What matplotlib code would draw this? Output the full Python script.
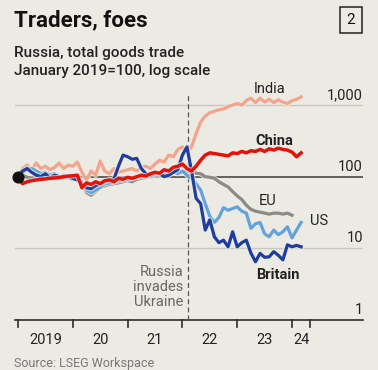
import matplotlib.pyplot as plt
import matplotlib.patheffects as pe
import numpy as np

BG = "#ecebe3"

# monthly values, Jan 2019 = 100
india = [100, 130, 145, 125, 155, 130, 140, 125, 135, 155, 130, 145,
         140, 160, 115, 90, 120, 105, 165, 120, 110, 130, 115, 120,
         125, 130, 120, 135, 140, 130, 150, 170, 160, 200, 190, 240,
         260, 220, 260, 400, 580, 700, 780, 820, 860, 880, 950, 1000,
         1050, 1000, 1150, 1250, 1080, 1250, 1100, 1200, 1080, 1180, 1100, 1050,
         1150, 1200, 1300]
china = [95, 80, 85, 88, 90, 92, 93, 95, 96, 97, 100, 102,
         103, 105, 70, 82, 78, 85, 80, 88, 90, 85, 95, 92,
         98, 95, 100, 105, 102, 110, 115, 112, 125, 120, 135, 140,
         150, 130, 120, 140, 170, 200, 215, 210, 205, 200, 195, 215,
         210, 225, 215, 230, 225, 240, 225, 245, 235, 250, 240, 235,
         220, 190, 215]
eu = [100, 105, 98, 95, 100, 97, 95, 93, 96, 94, 97, 95,
      92, 90, 80, 60, 55, 62, 70, 75, 78, 80, 82, 85,
      88, 85, 92, 95, 98, 100, 102, 105, 108, 110, 112, 115,
      118, 120, 115, 112, 110, 100, 98, 95, 85, 78, 72, 62,
      54, 48, 40, 35, 33, 32, 31, 30, 31, 31, 30, 31,
      29]
us = [100, 115, 125, 130, 120, 110, 115, 105, 110, 100, 105, 100,
      100, 95, 85, 65, 60, 65, 72, 80, 82, 85, 88, 90,
      92, 95, 98, 100, 105, 100, 108, 112, 110, 115, 118, 110,
      120, 105, 95, 80, 65, 42, 28, 23, 27, 37, 34, 36,
      38, 33, 31, 19, 22, 23, 16, 14.5, 18, 15.5, 17, 20,
      14, 18, 23]
britain = [100, 120, 130, 115, 105, 100, 110, 95, 105, 100, 98, 100,
           95, 90, 80, 70, 68, 75, 80, 85, 90, 92, 140, 200,
           190, 175, 180, 130, 110, 105, 115, 110, 100, 105, 115, 125,
           200, 260, 120, 50, 42, 18, 25, 14.5, 12, 13, 10.5, 17,
           10.5, 12, 13, 8.6, 6.5, 8.5, 7.5, 7.6, 9, 8, 6.9, 11.2,
           10.5, 11, 10.5]

year_ticks = [2019, 2020, 2021, 2022, 2023, 2024, 2024 + 4 / 12]
year_labels = ["2019", "20", "21", "22", "23", "24"]
invasion = 2022 + 1.3 / 12


def months(vals):
    return 2019 + np.arange(len(vals)) / 12


fig = plt.figure(figsize=(3.78, 3.70), dpi=100)
fig.patch.set_facecolor(BG)
ax = fig.add_axes([15 / 378, 1 - 320 / 370, 348 / 378, 225 / 370])
ax.set_facecolor(BG)
ax.set_yscale("log")
ax.set_xlim(2019 - 3 / 54.8, 2019 + 345 / 54.8)
ax.set_ylim(1, 1380)
for s in ax.spines.values():
    s.set_visible(False)
ax.set_xticks([])
ax.set_yticks([])
ax.minorticks_off()

for v in [10, 1000]:
    ax.axhline(v, color="#c9c7bd", lw=1, zorder=1)
ax.axhline(100, color="#3b3b3b", lw=1.1, zorder=2)
ax.axhline(1, color="#2b2b2b", lw=1.2, zorder=2, clip_on=False)
ax.axvline(invasion, ymax=1, color="#555555", lw=0.9, ls=(0, (4, 2.5)), zorder=2)

for t in year_ticks:
    ax.plot([t, t], [1, 0.8], color="#2b2b2b", lw=1.2, clip_on=False)
for i, lab in enumerate(year_labels):
    mid = (year_ticks[i] + year_ticks[i + 1]) / 2
    ax.text(mid, 0.53, lab, ha="center", va="center", fontsize=10.5,
            family="Roboto", color="#222222", clip_on=False)

halo = [pe.Stroke(linewidth=4, foreground=BG, alpha=0.7), pe.Normal()]
series = [(india, "#f4a48c", 2.3), (eu, "#8c8a86", 2.3), (us, "#62a3dc", 2.3),
          (britain, "#1f3d9c", 2.3), (china, "#e3120b", 2.5)]
for vals, col, lw in series:
    ax.plot(months(vals), vals, color=col, lw=lw, zorder=4,
            solid_joinstyle="round", path_effects=halo, clip_on=False)
ax.scatter([2019], [100], s=60, color="#111111", zorder=6, clip_on=False)

for v, lab in [(1000, "1,000"), (100, "100"), (10, "10"), (1, "1")]:
    ax.text(2019 + 345 / 54.8, v * 1.1, lab, ha="right", va="bottom",
            fontsize=10.5, family="Roboto", color="#222222")

lab_kw = dict(family="Roboto", fontsize=10.5, color="#222222")
ax.text(2023.6, 1650, "India", ha="center", va="center", **lab_kw)
ax.text(2023.68, 310, "China", ha="center", va="center", fontweight="bold", **lab_kw)
ax.text(2023.55, 46, "EU", ha="center", va="center", **lab_kw)
ax.text(2024.5, 24, "US", ha="center", va="center", **lab_kw)
ax.text(2023.75, 4.2, "Britain", ha="center", va="center", fontweight="bold", **lab_kw)
ax.text(invasion - 0.09, 2.9, "Russia\ninvades\nUkraine", ha="right", va="center",
        family="Roboto", fontsize=10.5, color="#666666", linespacing=1.1)

fig.text(14 / 378, 1 - 20 / 370, "Traders, foes", family="Roboto", fontweight="bold",
         fontsize=16, color="#111111", va="center")
fig.text(14 / 378, 1 - 62 / 370, "Russia, total goods trade\nJanuary 2019=100, log scale",
         family="Roboto", fontweight="medium", fontsize=11, color="#222222",
         va="center", linespacing=1.45)
fig.text(351 / 378, 1 - 20 / 370, "2", family="Roboto", fontsize=11, ha="center",
         va="center", color="#111111",
         bbox=dict(boxstyle="square,pad=0.42", fc=BG, ec="#222222", lw=1.1))
fig.text(14 / 378, 1 - 363 / 370, "Source: LSEG Workspace", family="Roboto",
         fontsize=9, color="#777777", va="center")

fig.savefig("out.png", dpi=100, facecolor=BG)
